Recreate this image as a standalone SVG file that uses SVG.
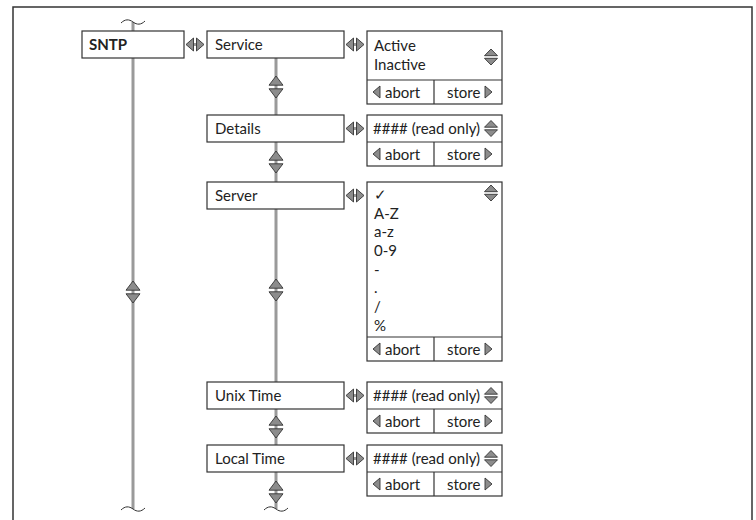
<svg xmlns="http://www.w3.org/2000/svg" xmlns:xlink="http://www.w3.org/1999/xlink" width="756" height="520" viewBox="0 0 756 520">
<style>
.box{fill:#fff;stroke:#333;stroke-width:1.2}
.sep{stroke:#333;stroke-width:1.2;fill:none}
.t{font-family:Lato,"Open Sans",sans-serif;font-size:15px;fill:#222}
.b{font-weight:bold}
.conn{stroke:#9a9a9a;stroke-width:3;fill:none}
.tri{fill:#8c8c8c;stroke:#333;stroke-width:0.9;stroke-linejoin:round}
.tl{stroke:#333;stroke-width:1;fill:none}
</style>
<defs>
<g id="hd"><line x1="-3" y1="0" x2="3" y2="0" stroke="#9a9a9a" stroke-width="3"/><polygon class="tri" points="-9,0 -1.5,-6.5 -1.5,6.5"/><polygon class="tri" points="9,0 1.5,-6.5 1.5,6.5"/></g>
<g id="vd"><polygon class="tri" points="0,-11 -7,-1.8 7,-1.8"/><polygon class="tri" points="0,11 -7,1.8 7,1.8"/></g>
<g id="pd"><polygon class="tri" points="0,-8 -6.5,-1.3 6.5,-1.3"/><polygon class="tri" points="0,8 -6.5,1.3 6.5,1.3"/></g>
<polygon id="la" class="tri" points="0,0 7,-6 7,6"/>
<polygon id="ra" class="tri" points="7,0 0,-6 0,6"/>
<g id="abst"><line class="sep" x1="0" y1="0" x2="135" y2="0"/><line class="sep" x1="67" y1="0" x2="67" y2="24"/><use xlink:href="#la" x="6" y="12"/><text class="t" x="18" y="17.5">abort</text><text class="t" x="80" y="17.5">store</text><use xlink:href="#ra" x="118" y="12"/></g>
</defs>
<rect x="13" y="7" width="739" height="520" fill="#fff" stroke="#333" stroke-width="1.5"/>
<g id="connectors">
<line class="conn" x1="133" y1="22" x2="133" y2="509"/>
<line class="conn" x1="276" y1="58" x2="276" y2="509"/>
<path class="tl" d="M121,23 C125,19 129,19 133,22 C137,25 141,25 145,21"/>
<path class="tl" d="M121,510 C125,506 129,506 133,509 C137,512 141,512 145,508"/>
<path class="tl" d="M264,510 C268,506 272,506 276,509 C280,512 284,512 288,508"/>
<use xlink:href="#hd" x="195" y="44.5"/>
<use xlink:href="#hd" x="355" y="44.5"/>
<use xlink:href="#hd" x="355" y="128.5"/>
<use xlink:href="#hd" x="355" y="195.5"/>
<use xlink:href="#hd" x="355" y="395.5"/>
<use xlink:href="#hd" x="355" y="458.5"/>
<use xlink:href="#vd" x="276" y="87"/>
<use xlink:href="#vd" x="276" y="162"/>
<use xlink:href="#vd" x="276" y="290"/>
<use xlink:href="#vd" x="276" y="427"/>
<use xlink:href="#vd" x="276" y="492"/>
<use xlink:href="#vd" x="133" y="292"/>
</g>
<g id="sntp"><rect class="box" x="82" y="31" width="102" height="27"/><text class="t b" x="89" y="50">SNTP</text></g>
<g id="service"><rect class="box" x="207" y="31" width="137" height="27"/><text class="t" x="215" y="50">Service</text></g>
<g id="service-panel"><rect class="box" x="367" y="31" width="135" height="73"/><text class="t" x="374" y="51">Active</text><text class="t" x="374" y="70">Inactive</text><use xlink:href="#pd" x="491" y="57"/><use xlink:href="#abst" x="367" y="80"/></g>
<g id="details"><rect class="box" x="207" y="115" width="137" height="27"/><text class="t" x="215" y="134">Details</text></g>
<g id="details-panel"><rect class="box" x="367" y="115" width="135" height="51"/><text class="t" x="373" y="134">#### (read only)</text><use xlink:href="#pd" x="491" y="128.5"/><use xlink:href="#abst" x="367" y="142"/></g>
<g id="server"><rect class="box" x="207" y="182" width="137" height="27"/><text class="t" x="215" y="201">Server</text></g>
<g id="server-panel"><rect class="box" x="367" y="182" width="135" height="179"/>
<text class="t" x="374" y="200">✓</text>
<text class="t" x="374" y="218.5">A-Z</text>
<text class="t" x="374" y="237">a-z</text>
<text class="t" x="374" y="256">0-9</text>
<text class="t" x="374" y="274.5">-</text>
<text class="t" x="374" y="293">.</text>
<text class="t" x="374" y="312">/</text>
<text class="t" x="374" y="331">%</text>
<use xlink:href="#pd" x="491" y="193"/><use xlink:href="#abst" x="367" y="337"/></g>
<g id="unix-time"><rect class="box" x="207" y="382" width="137" height="27"/><text class="t" x="215" y="401">Unix Time</text></g>
<g id="unix-panel"><rect class="box" x="367" y="382" width="135" height="51"/><text class="t" x="373" y="401">#### (read only)</text><use xlink:href="#pd" x="491" y="395.5"/><use xlink:href="#abst" x="367" y="409"/></g>
<g id="local-time"><rect class="box" x="207" y="445" width="137" height="27"/><text class="t" x="215" y="464">Local Time</text></g>
<g id="local-panel"><rect class="box" x="367" y="445" width="135" height="51"/><text class="t" x="373" y="464">#### (read only)</text><use xlink:href="#pd" x="491" y="458.5"/><use xlink:href="#abst" x="367" y="472"/></g>
</svg>
